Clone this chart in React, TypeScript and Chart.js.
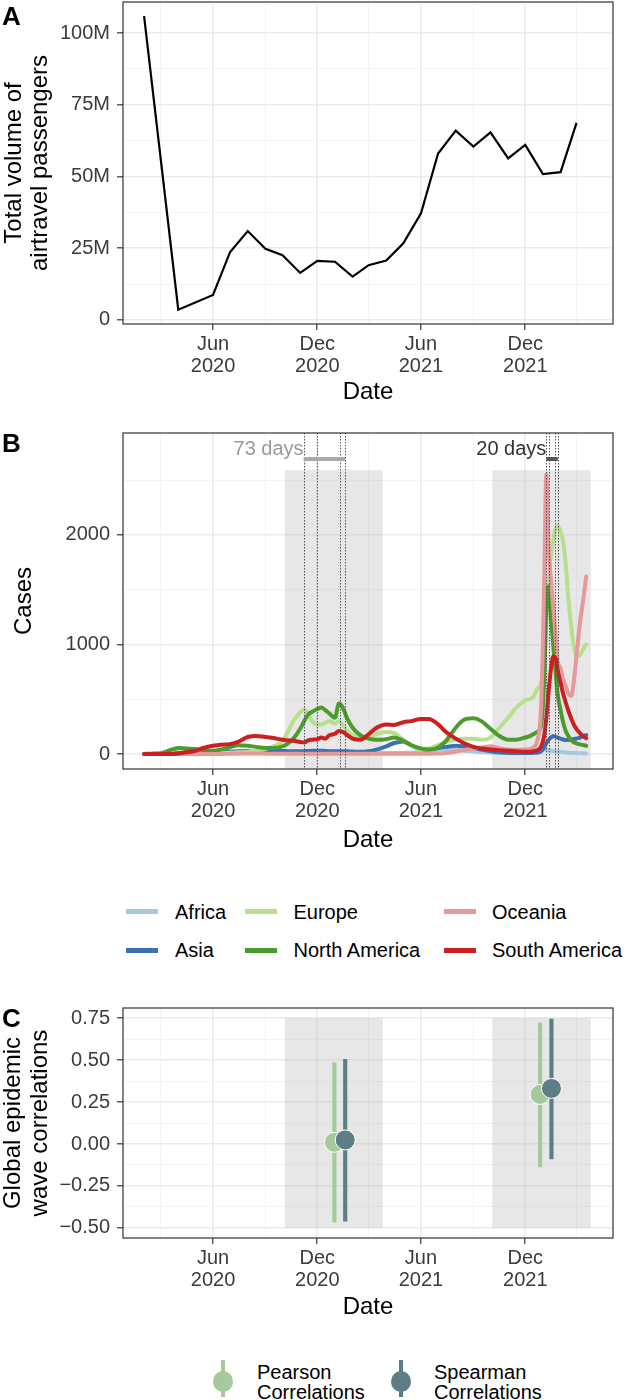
import React, { useEffect, useRef } from "react";
import { Chart, registerables } from "chart.js";

Chart.register(...registerables);

const FONT = '"Liberation Sans", Arial, Helvetica, sans-serif';
Chart.defaults.font.family = FONT;

const day = (s: string) => Date.parse(s + "T00:00:00Z") / 86400000;

// ---------- shared date axis ----------
const xRange = ["2019-12-26", "2022-05-04"];
const xMajorDates = ["2020-06-01", "2020-12-01", "2021-06-01", "2021-12-01"];
const xMajorLabels = [["Jun", "2020"], ["Dec", "2020"], ["Jun", "2021"], ["Dec", "2021"]];
const xMinorDates = ["2020-03-01", "2020-09-01", "2021-03-01", "2021-09-01", "2022-03-01"];

// ---------- panel A ----------
const airDates = [
  "2020-02-01", "2020-04-01", "2020-06-01", "2020-07-01", "2020-08-01", "2020-09-01",
  "2020-10-01", "2020-11-01", "2020-12-01", "2021-01-01", "2021-02-01", "2021-03-01",
  "2021-04-01", "2021-05-01", "2021-06-01", "2021-07-01", "2021-08-01", "2021-09-01",
  "2021-10-01", "2021-11-01", "2021-12-01", "2022-01-01", "2022-02-01", "2022-03-01",
];
const airPassengers = [
  105.9e6, 3.6e6, 8.7e6, 23.7e6, 31.0e6, 24.8e6,
  22.6e6, 16.4e6, 20.6e6, 20.3e6, 15.1e6, 19.1e6,
  20.7e6, 26.7e6, 37.2e6, 58.0e6, 66.0e6, 60.4e6,
  65.4e6, 56.3e6, 61.0e6, 50.8e6, 51.5e6, 68.7e6,
];
const airRange = [-1.4e6, 110.8e6];
const airMajorTicks = [0, 25e6, 50e6, 75e6, 100e6];
const airTickLabels = ["0", "25M", "50M", "75M", "100M"];
const airMinorTicks = [12.5e6, 37.5e6, 62.5e6, 87.5e6];

// ---------- panel B ----------
const caseDates = [
  "2020-02-01", "2020-02-15", "2020-03-01", "2020-03-15", "2020-04-01", "2020-04-15",
  "2020-05-01", "2020-05-15", "2020-06-01", "2020-06-15", "2020-07-01", "2020-07-15",
  "2020-08-01", "2020-08-15", "2020-09-01", "2020-09-15", "2020-10-01", "2020-10-10",
  "2020-10-20", "2020-11-01", "2020-11-08", "2020-11-15", "2020-11-22", "2020-12-01",
  "2020-12-08", "2020-12-15", "2020-12-22", "2021-01-01", "2021-01-08", "2021-01-15",
  "2021-01-22", "2021-02-01", "2021-02-15", "2021-03-01", "2021-03-15", "2021-04-01",
  "2021-04-15", "2021-05-01", "2021-05-15", "2021-06-01", "2021-06-15", "2021-07-01",
  "2021-07-15", "2021-08-01", "2021-08-15", "2021-09-01", "2021-09-15", "2021-10-01",
  "2021-10-15", "2021-11-01", "2021-11-15", "2021-12-01", "2021-12-08", "2021-12-15",
  "2021-12-22", "2021-12-29", "2022-01-03", "2022-01-07", "2022-01-11", "2022-01-15",
  "2022-01-19", "2022-01-23", "2022-01-27", "2022-02-01", "2022-02-05", "2022-02-10",
  "2022-02-15", "2022-02-20", "2022-02-25", "2022-03-02", "2022-03-07", "2022-03-12",
  "2022-03-18",
];
const africaCases = [
  0, 0, 0, 1, 2, 3, 4, 6, 8, 10, 14, 18,
  20, 16, 12, 10, 8, 8, 9, 10, 11, 12, 13, 14,
  15, 17, 19, 22, 24, 22, 18, 14, 10, 9, 8, 8,
  9, 10, 12, 18, 28, 38, 42, 38, 30, 24, 18, 14,
  11, 9, 8, 8, 10, 15, 25, 38, 42, 40, 36, 32,
  28, 25, 22, 20, 17, 14, 12, 10, 9, 8, 7, 6,
  5,
];
const asiaCases = [
  0, 3, 5, 5, 8, 10, 10, 12, 15, 18, 20, 24,
  28, 28, 30, 30, 28, 26, 25, 25, 25, 27, 30, 30,
  30, 28, 26, 25, 25, 24, 24, 22, 20, 25, 40, 70,
  100, 115, 80, 45, 40, 55, 65, 75, 70, 55, 40, 25,
  15, 10, 8, 8, 8, 10, 12, 25, 60, 100, 130, 150,
  163, 158, 150, 140, 132, 128, 128, 132, 138, 142, 150, 162,
  172,
];
const europeCases = [
  0, 0, 5, 25, 50, 45, 30, 20, 15, 12, 12, 15,
  20, 30, 45, 70, 120, 200, 300, 380, 405, 360, 300, 270,
  270, 285, 300, 280, 300, 260, 210, 170, 150, 160, 180, 200,
  190, 130, 80, 40, 50, 80, 110, 130, 140, 140, 130, 150,
  230, 330, 420, 490, 500, 520, 590, 650, 850, 1200, 1550, 1800,
  1950, 2050, 2080, 2030, 1950, 1730, 1400, 1150, 960, 890, 900, 950,
  1000,
];
const northAmericaCases = [
  0, 0, 5, 30, 55, 50, 45, 35, 30, 40, 60, 80,
  75, 65, 55, 55, 70, 95, 140, 230, 300, 360, 385, 410,
  425, 400, 370, 330, 460, 420, 330, 240, 170, 140, 130, 135,
  150, 120, 80, 50, 40, 60, 120, 240, 310, 325, 300, 230,
  170, 130, 130, 150, 160, 180, 200, 270, 650, 1350, 1530, 1250,
  1000, 760, 540, 400, 300, 210, 160, 125, 105, 95, 88, 82,
  75,
];
const oceaniaCases = [
  0, 0, 0, 0, 1, 1, 1, 1, 1, 1, 2, 3,
  4, 4, 3, 2, 2, 2, 2, 2, 2, 2, 2, 2,
  2, 2, 2, 3, 3, 3, 3, 3, 3, 3, 3, 3,
  3, 3, 3, 3, 3, 5, 8, 20, 35, 50, 60, 70,
  55, 40, 38, 40, 45, 60, 120, 450, 1500, 2550, 1900, 1600,
  1350, 1100, 850, 780, 690, 620, 550, 530, 700, 950, 1200, 1380,
  1620,
];
const southAmericaCases = [
  0, 0, 0, 0, 5, 15, 30, 55, 75, 85, 90, 110,
  155, 165, 155, 145, 130, 125, 120, 110, 105, 125, 130, 135,
  150, 140, 170, 185, 210, 200, 175, 140, 130, 180, 240, 270,
  265, 290, 300, 320, 320, 270, 200, 140, 100, 65, 50, 40,
  35, 30, 25, 20, 20, 25, 35, 70, 160, 330, 570, 770,
  890, 880, 760, 650, 560, 470, 390, 320, 260, 220, 190, 165,
  145,
];
const regionNames = ["Africa", "Asia", "Europe", "North America", "Oceania", "South America"];
const regionSeries = [africaCases, asiaCases, europeCases, northAmericaCases, oceaniaCases, southAmericaCases];
const regionColors = ["#a6c8e1", "#3b70b5", "#b8df8e", "#4d9a2d", "#e8979b", "#cc1f22"];
const caseRange = [-137, 2929];
const caseMajorTicks = [0, 1000, 2000];
const caseTickLabels = ["0", "1000", "2000"];
const caseMinorTicks = [500, 1500, 2500];

const waveStarts = ["2020-10-05", "2021-10-04"];
const waveEnds = ["2021-03-26", "2022-03-26"];
const caseShadeTop = 2590;
const wavePeakDates = [
  ["2020-11-07", "2020-11-30", "2021-01-10", "2021-01-19"],
  ["2022-01-07", "2022-01-11", "2022-01-23", "2022-01-27"],
];
const waveLabels = ["73 days", "20 days"];
const waveBarLevel = 2692;
const waveLabelLevel = 2728;

// ---------- panel C ----------
const pearsonDates = ["2020-12-31", "2021-12-27"];
const pearsonEst = [0.01, 0.295];
const pearsonLow = [-0.466, -0.137];
const pearsonHigh = [0.484, 0.722];
const spearmanDates = ["2021-01-19", "2022-01-16"];
const spearmanEst = [0.024, 0.331];
const spearmanLow = [-0.46, -0.089];
const spearmanHigh = [0.504, 0.744];
const corrRange = [-0.56, 0.81];
const corrMajorTicks = [-0.5, -0.25, 0, 0.25, 0.5, 0.75];
const corrTickLabels = ["\u22120.50", "\u22120.25", "0.00", "0.25", "0.50", "0.75"];
const corrMinorTicks = [-0.375, -0.125, 0.125, 0.375, 0.625];
const corrShadeLow = -0.5;
const corrShadeHigh = 0.75;

// ---------- styles ----------
const TICK_COLOR = "#3b3b3b";
const GRID_MAJOR = "#EBEBEB";
const GRID_MINOR = "#F3F3F3";
const AXIS_COLOR = "#333333";
const SHADE = "rgba(190,190,190,0.37)";
const PEARSON = "#a5c99b";
const SPEARMAN = "#5d7e86";

function gridOpts(isMajor: (v: number) => boolean) {
  return {
    offset: false,
    color: (c: any) => (c.tick && isMajor(c.tick.value) ? GRID_MAJOR : GRID_MINOR),
    lineWidth: (c: any) => (c.tick && isMajor(c.tick.value) ? 1.6 : 1),
    tickColor: (c: any) => (c.tick && isMajor(c.tick.value) ? AXIS_COLOR : "rgba(0,0,0,0)"),
    tickLength: 6,
    tickWidth: 1.2,
    drawTicks: true,
    drawOnChartArea: true,
  };
}

const xMajorValues = xMajorDates.map(day);
const xTickValues = [...xMajorDates, ...xMinorDates].map(day).sort((a, b) => a - b);

function xScale(height: number, titlePad: number) {
  return {
    type: "linear",
    min: day(xRange[0]),
    max: day(xRange[1]),
    offset: false,
    afterBuildTicks: (s: any) => {
      s.ticks = xTickValues.map((v) => ({ value: v }));
    },
    afterFit: (s: any) => {
      s.height = height;
      s.paddingLeft = 0;
      s.paddingRight = 0;
      s.paddingTop = 0;
      s.paddingBottom = 0;
    },
    grid: gridOpts((v) => xMajorValues.indexOf(v) >= 0),
    border: { display: false },
    ticks: {
      autoSkip: false,
      maxRotation: 0,
      minRotation: 0,
      padding: 3,
      color: TICK_COLOR,
      font: { size: 20, lineHeight: 1.1 },
      callback: (v: number) => {
        const i = xMajorValues.indexOf(v);
        return i >= 0 ? xMajorLabels[i] : "";
      },
    },
    title: {
      display: true,
      text: "Date",
      color: "#000",
      font: { size: 24, lineHeight: 1.1 },
      padding: { top: 0, bottom: titlePad },
    },
  };
}

function yScale(range: number[], majors: number[], labels: string[], minors: number[], title: any, titlePad: number) {
  const all = [...majors, ...minors].sort((a, b) => a - b);
  return {
    type: "linear",
    min: range[0],
    max: range[1],
    afterBuildTicks: (s: any) => {
      s.ticks = all.map((v) => ({ value: v }));
    },
    afterFit: (s: any) => {
      s.width = 123;
      s.paddingLeft = 0;
      s.paddingRight = 0;
      s.paddingTop = 0;
      s.paddingBottom = 0;
    },
    grid: gridOpts((v) => majors.indexOf(v) >= 0),
    border: { display: false },
    ticks: {
      autoSkip: false,
      padding: 7,
      color: TICK_COLOR,
      font: { size: 20, lineHeight: 1.1 },
      callback: (v: number) => {
        const i = majors.indexOf(v);
        return i >= 0 ? labels[i] : "";
      },
    },
    title: {
      display: true,
      text: title,
      color: "#000",
      font: { size: 24, lineHeight: 1.12 },
      padding: { top: titlePad, bottom: 0 },
    },
  };
}

const panelBorder = {
  id: "panelBorder",
  afterDraw(chart: any) {
    const { ctx, chartArea: a } = chart;
    ctx.save();
    ctx.strokeStyle = AXIS_COLOR;
    ctx.lineWidth = 1.2;
    ctx.strokeRect(a.left, a.top, a.right - a.left, a.bottom - a.top);
    ctx.restore();
  },
};

function shadePlugin(low: number | null, high: number) {
  return {
    id: "shade",
    beforeDatasetsDraw(chart: any) {
      const { ctx, chartArea: a, scales } = chart;
      ctx.save();
      ctx.beginPath();
      ctx.rect(a.left, a.top, a.right - a.left, a.bottom - a.top);
      ctx.clip();
      ctx.fillStyle = SHADE;
      waveStarts.forEach((s, i) => {
        const x0 = scales.x.getPixelForValue(day(s));
        const x1 = scales.x.getPixelForValue(day(waveEnds[i]));
        const y0 = scales.y.getPixelForValue(high);
        const y1 = low === null ? a.bottom : scales.y.getPixelForValue(low);
        ctx.fillRect(x0, y0, x1 - x0, y1 - y0);
      });
      ctx.restore();
    },
  };
}

const waveAnnotations = {
  id: "waves",
  afterDatasetsDraw(chart: any) {
    const { ctx, chartArea: a, scales } = chart;
    const barColors = ["#a9a9a9", "#555555"];
    const textColors = ["#9a9a9a", "#333333"];
    ctx.save();
    wavePeakDates.forEach((dates, w) => {
      ctx.strokeStyle = "#555555";
      ctx.lineWidth = 1;
      ctx.setLineDash([1.5, 1.5]);
      dates.forEach((d) => {
        const px = Math.round(scales.x.getPixelForValue(day(d))) + 0.5;
        ctx.beginPath();
        ctx.moveTo(px, a.top);
        ctx.lineTo(px, a.bottom);
        ctx.stroke();
      });
      ctx.setLineDash([]);
      const x0 = scales.x.getPixelForValue(day(dates[0]));
      const x1 = scales.x.getPixelForValue(day(dates[dates.length - 1]));
      const yb = scales.y.getPixelForValue(waveBarLevel);
      ctx.strokeStyle = barColors[w];
      ctx.lineWidth = 4;
      ctx.lineCap = "butt";
      ctx.beginPath();
      ctx.moveTo(x0, yb);
      ctx.lineTo(x1, yb);
      ctx.stroke();
      ctx.fillStyle = textColors[w];
      ctx.font = `20px ${FONT}`;
      ctx.textAlign = "right";
      ctx.textBaseline = "alphabetic";
      ctx.fillText(waveLabels[w], x0, scales.y.getPixelForValue(waveLabelLevel));
    });
    ctx.restore();
  },
};

const baseOptions = (padTop: number) => ({
  animation: false,
  responsive: false,
  maintainAspectRatio: false,
  layout: { autoPadding: false, padding: { top: padTop, right: 20, bottom: 0, left: 0 } },
  plugins: { legend: { display: false }, tooltip: { enabled: false } },
});

function makeA() {
  return {
    type: "line",
    data: {
      datasets: [
        {
          data: airDates.map((d, i) => ({ x: day(d), y: airPassengers[i] })),
          borderColor: "#000",
          borderWidth: 2.2,
          pointRadius: 0,
          tension: 0,
          borderJoinStyle: "miter",
        },
      ],
    },
    options: {
      ...baseOptions(2),
      scales: {
        x: xScale(86, 4.8),
        y: yScale(airRange, airMajorTicks, airTickLabels, airMinorTicks, ["Total volume of", "airtravel passengers"], 0.5),
      },
    },
    plugins: [panelBorder],
  };
}

function makeB() {
  return {
    type: "line",
    data: {
      datasets: regionNames.map((name, r) => ({
        label: name,
        data: caseDates.map((d, i) => ({ x: day(d), y: regionSeries[r][i] })),
        borderColor: regionColors[r],
        borderWidth: 4,
        pointRadius: 0,
        cubicInterpolationMode: "monotone",
        borderJoinStyle: "round",
        borderCapStyle: "round",
        order: regionNames.length - r,
      })),
    },
    options: {
      ...baseOptions(23),
      scales: {
        x: xScale(101, 16),
        y: yScale(caseRange, caseMajorTicks, caseTickLabels, caseMinorTicks, "Cases", 11),
      },
    },
    plugins: [shadePlugin(null, caseShadeTop), waveAnnotations, panelBorder],
  };
}

function makeC() {
  return {
    type: "scatter",
    data: {
      datasets: [
        {
          type: "bar",
          label: "Pearson range",
          data: pearsonDates.map((d, i) => ({ x: day(d), y: [pearsonLow[i], pearsonHigh[i]] })),
          backgroundColor: PEARSON,
          barThickness: 3.5,
          grouped: false,
          order: 4,
        },
        {
          type: "scatter",
          label: "Pearson Correlations",
          data: pearsonDates.map((d, i) => ({ x: day(d), y: pearsonEst[i] })),
          backgroundColor: PEARSON,
          borderColor: "#ffffff",
          borderWidth: 1,
          pointRadius: 10,
          order: 3,
        },
        {
          type: "bar",
          label: "Spearman range",
          data: spearmanDates.map((d, i) => ({ x: day(d), y: [spearmanLow[i], spearmanHigh[i]] })),
          backgroundColor: SPEARMAN,
          barThickness: 3.5,
          grouped: false,
          order: 2,
        },
        {
          type: "scatter",
          label: "Spearman Correlations",
          data: spearmanDates.map((d, i) => ({ x: day(d), y: spearmanEst[i] })),
          backgroundColor: SPEARMAN,
          borderColor: "#ffffff",
          borderWidth: 1,
          pointRadius: 10,
          order: 1,
        },
      ],
    },
    options: {
      ...baseOptions(28),
      scales: {
        x: xScale(87, 4.1),
        y: yScale(corrRange, corrMajorTicks, corrTickLabels, corrMinorTicks, ["Global epidemic", "wave correlations"], 0),
      },
    },
    plugins: [shadePlugin(corrShadeLow, corrShadeHigh), panelBorder],
  };
}

function ChartCanvas({ top, height, make }: { top: number; height: number; make: () => any }) {
  const ref = useRef<HTMLCanvasElement | null>(null);
  useEffect(() => {
    const chart = new Chart(ref.current as HTMLCanvasElement, make());
    return () => chart.destroy();
  }, []);
  return (
    <canvas
      ref={ref}
      width={633}
      height={height}
      style={{ position: "absolute", left: 0, top, width: 633, height, display: "block" }}
    />
  );
}

const textBase: any = { position: "absolute", fontFamily: FONT, whiteSpace: "nowrap", color: "#000" };

function PanelLetter({ letter, top }: { letter: string; top: number }) {
  return (
    <div style={{ ...textBase, left: 2, top, fontSize: 26, lineHeight: "26px", fontWeight: "bold" }}>{letter}</div>
  );
}

const legendColX = [126, 245, 444];
const legendTextX = [175, 293.5, 492];
const legendRowY = [911.5, 950];

function RegionLegend() {
  return (
    <>
      {regionNames.map((name, i) => {
        const col = Math.floor(i / 2);
        const row = i % 2;
        const cy = legendRowY[row];
        return (
          <React.Fragment key={name}>
            <div
              style={{
                position: "absolute",
                left: legendColX[col],
                top: cy - 2.5,
                width: 32,
                height: 5,
                background: regionColors[i],
              }}
            />
            <div style={{ ...textBase, left: legendTextX[col], top: cy - 11, fontSize: 20, lineHeight: "22px" }}>
              {name}
            </div>
          </React.Fragment>
        );
      })}
    </>
  );
}

const corrLegendNames = [["Pearson", "Correlations"], ["Spearman", "Correlations"]];
const corrLegendColors = [PEARSON, SPEARMAN];
const corrLegendKeyX = [223, 401];
const corrLegendTextX = [257, 434];

function CorrLegend() {
  return (
    <>
      {corrLegendNames.map((lines, i) => (
        <React.Fragment key={lines[0]}>
          <div
            style={{
              position: "absolute",
              left: corrLegendKeyX[i] - 1.75,
              top: 1360,
              width: 3.5,
              height: 37,
              background: corrLegendColors[i],
            }}
          />
          <div
            style={{
              position: "absolute",
              left: corrLegendKeyX[i] - 10,
              top: 1371,
              width: 20,
              height: 21,
              borderRadius: "50%",
              background: corrLegendColors[i],
            }}
          />
          <div style={{ ...textBase, left: corrLegendTextX[i], top: 1362, fontSize: 20, lineHeight: "20px" }}>
            {lines[0]}
            <br />
            {lines[1]}
          </div>
        </React.Fragment>
      ))}
    </>
  );
}

export default function App() {
  return (
    <div style={{ position: "absolute", left: 0, top: 0, width: 633, height: 1400, overflow: "hidden", background: "#fff" }}>
      <ChartCanvas top={0} height={410} make={makeA} />
      <ChartCanvas top={410} height={460} make={makeB} />
      <ChartCanvas top={980} height={345} make={makeC} />
      <PanelLetter letter="A" top={3} />
      <PanelLetter letter="B" top={429.5} />
      <PanelLetter letter="C" top={1004.5} />
      <RegionLegend />
      <CorrLegend />
    </div>
  );
}
